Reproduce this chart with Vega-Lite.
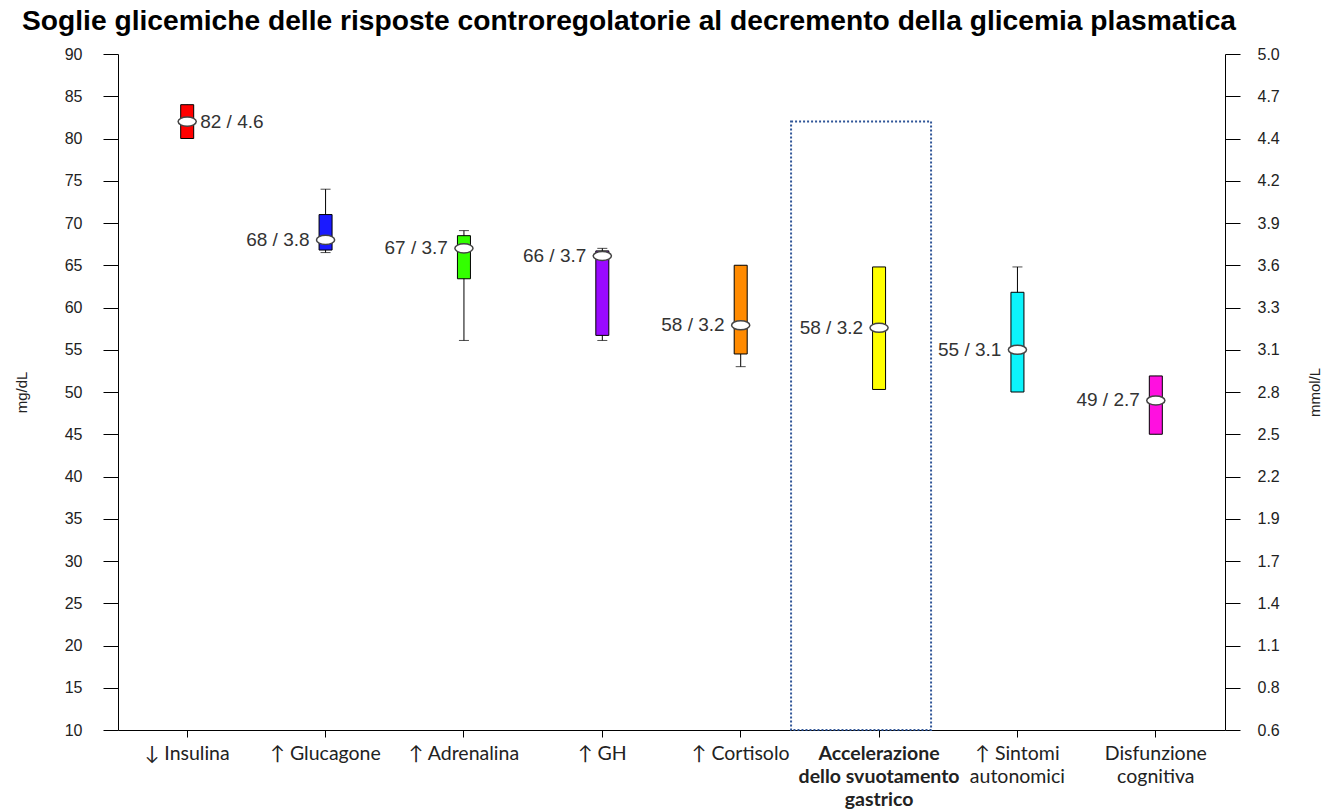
{
  "$schema": "https://vega.github.io/schema/vega-lite/v6.json",
  "width": 1107,
  "height": 676,
  "autosize": {"type": "none"},
  "padding": {"left": 118, "top": 54, "right": 106, "bottom": 81},
  "background": "white",
  "config": {"view": {"stroke": null}, "font": "Liberation Sans"},
  "title": {
    "text": "Soglie glicemiche delle risposte controregolatorie al decremento della glicemia plasmatica",
    "anchor": "start",
    "frame": "group",
    "dx": -96,
    "offset": 10,
    "fontSize": 28.2,
    "fontWeight": "bold",
    "font": "Liberation Sans",
    "color": "black"
  },
  "datasets": {
    "boxes": [
      {"cat": "↓ Insulina", "lo": 80, "q1": 80, "med": 82, "q3": 84, "hi": 84, "label": "82 / 4.6"},
      {"cat": "↑ Glucagone", "lo": 66.5, "q1": 66.8, "med": 68, "q3": 71, "hi": 74, "label": "68 / 3.8"},
      {"cat": "↑ Adrenalina", "lo": 56.1, "q1": 63.4, "med": 67, "q3": 68.5, "hi": 69.1, "label": "67 / 3.7"},
      {"cat": "↑ GH", "lo": 56.1, "q1": 56.7, "med": 66.1, "q3": 66.7, "hi": 67, "label": "66 / 3.7"},
      {"cat": "↑ Cortisolo", "lo": 53, "q1": 54.5, "med": 57.9, "q3": 65, "hi": 65, "label": "58 / 3.2"},
      {"cat": "Accelerazione|dello svuotamento|gastrico", "lo": 50.3, "q1": 50.3, "med": 57.6, "q3": 64.8, "hi": 64.8, "label": "58 / 3.2"},
      {"cat": "↑ Sintomi|autonomici", "lo": 50, "q1": 50, "med": 55, "q3": 61.8, "hi": 64.8, "label": "55 / 3.1"},
      {"cat": "Disfunzione|cognitiva", "lo": 45, "q1": 45, "med": 49, "q3": 51.9, "hi": 51.9, "label": "49 / 2.7"}
    ],
    "highlight": [
      {"cat": "Accelerazione|dello svuotamento|gastrico", "top": 82, "bottom": 10}
    ]
  },
  "data": {"name": "boxes"},
  "encoding": {
    "x": {
      "field": "cat",
      "type": "nominal",
      "title": null,
      "scale": {
        "domain": ["↓ Insulina", "↑ Glucagone", "↑ Adrenalina", "↑ GH", "↑ Cortisolo", "Accelerazione|dello svuotamento|gastrico", "↑ Sintomi|autonomici", "Disfunzione|cognitiva"],
        "paddingInner": 0,
        "paddingOuter": 0
      },
      "axis": {
        "labelExpr": "split(datum.label, '|')",
        "labelFontWeight": {"expr": "indexof(datum.label, 'Accelerazione') >= 0 ? 'bold' : 'normal'"},
        "labelFont": "Lato",
        "labelFontSize": 19.5,
        "labelLineHeight": 23,
        "labelColor": "#222222",
        "labelAngle": 0,
        "labelBaseline": "top",
        "labelPadding": 7,
        "labelOverlap": false,
        "labelLimit": 0,
        "tickSize": 7,
        "tickColor": "black",
        "domainColor": "black",
        "grid": false
      }
    }
  },
  "layer": [
    {
      "mark": {"type": "rule", "color": "black", "strokeWidth": 1},
      "encoding": {
        "y": {
          "field": "lo",
          "type": "quantitative",
          "scale": {"domain": [10, 90], "nice": false, "zero": false},
          "axis": {
            "orient": "left",
            "values": [10, 15, 20, 25, 30, 35, 40, 45, 50, 55, 60, 65, 70, 75, 80, 85, 90],
            "grid": false,
            "tickSize": 15,
            "tickColor": "black",
            "domainColor": "black",
            "labelFont": "Liberation Sans",
            "labelFontSize": 16,
            "labelColor": "#222222",
            "labelPadding": 21,
            "title": "mg/dL",
            "titleFont": "Liberation Sans",
            "titleFontSize": 15,
            "titleFontWeight": "normal",
            "titleColor": "#222222",
            "titleAngle": 270,
            "titleX": -97,
            "titleY": 338,
            "titleAlign": "center",
            "titleBaseline": "middle"
          }
        },
        "y2": {"field": "hi"}
      }
    },
    {
      "transform": [{"filter": "datum.lo < datum.q1"}],
      "mark": {"type": "tick", "orient": "horizontal", "color": "black", "size": 10, "thickness": 1},
      "encoding": {
        "y": {"field": "lo", "type": "quantitative", "scale": {"domain": [10, 90], "nice": false, "zero": false}, "axis": null}
      }
    },
    {
      "transform": [{"filter": "datum.hi > datum.q3"}],
      "mark": {"type": "tick", "orient": "horizontal", "color": "black", "size": 10, "thickness": 1},
      "encoding": {
        "y": {"field": "hi", "type": "quantitative", "scale": {"domain": [10, 90], "nice": false, "zero": false}, "axis": null}
      }
    },
    {
      "mark": {"type": "bar", "width": 13, "stroke": "black", "strokeWidth": 1},
      "encoding": {
        "y": {
          "field": "q1",
          "type": "quantitative",
          "scale": {"domain": [10, 90], "nice": false, "zero": false},
          "axis": {
            "orient": "right",
            "values": [10, 15, 20, 25, 30, 35, 40, 45, 50, 55, 60, 65, 70, 75, 80, 85, 90],
            "labelExpr": "format(datum.value / 18, '.1f')",
            "grid": false,
            "tickSize": 15,
            "tickColor": "black",
            "domainColor": "black",
            "labelFont": "Liberation Sans",
            "labelFontSize": 16,
            "labelColor": "#222222",
            "labelPadding": 17,
            "title": "mmol/L",
            "titleFont": "Liberation Sans",
            "titleFontSize": 15,
            "titleFontWeight": "normal",
            "titleColor": "#222222",
            "titleAngle": 270,
            "titleX": 89,
            "titleY": 338,
            "titleAlign": "center",
            "titleBaseline": "middle"
          }
        },
        "y2": {"field": "q3"},
        "color": {
          "field": "cat",
          "type": "nominal",
          "legend": null,
          "scale": {
            "domain": ["↓ Insulina", "↑ Glucagone", "↑ Adrenalina", "↑ GH", "↑ Cortisolo", "Accelerazione|dello svuotamento|gastrico", "↑ Sintomi|autonomici", "Disfunzione|cognitiva"],
            "range": ["#ff0000", "#1a1aff", "#33ff00", "#9a0aff", "#ff8a00", "#ffff00", "#0cf4fc", "#ff10e0"]
          }
        }
      }
    },
    {
      "mark": {
        "type": "point",
        "shape": "M-1,0A1,0.5 0 1,0 1,0A1,0.5 0 1,0 -1,0Z",
        "size": 330,
        "filled": true,
        "fill": "white",
        "stroke": "#444444",
        "strokeWidth": 1.5,
        "opacity": 1
      },
      "encoding": {
        "y": {"field": "med", "type": "quantitative", "scale": {"domain": [10, 90], "nice": false, "zero": false}, "axis": null}
      }
    },
    {
      "transform": [{"filter": "datum.cat == '↓ Insulina'"}],
      "mark": {"type": "text", "align": "left", "baseline": "middle", "dx": 13, "fontSize": 19, "font": "Liberation Sans", "color": "#333333"},
      "encoding": {
        "y": {"field": "med", "type": "quantitative", "scale": {"domain": [10, 90], "nice": false, "zero": false}, "axis": null},
        "text": {"field": "label"}
      }
    },
    {
      "transform": [{"filter": "datum.cat != '↓ Insulina'"}],
      "mark": {"type": "text", "align": "right", "baseline": "middle", "dx": -16, "fontSize": 19, "font": "Liberation Sans", "color": "#333333"},
      "encoding": {
        "y": {"field": "med", "type": "quantitative", "scale": {"domain": [10, 90], "nice": false, "zero": false}, "axis": null},
        "text": {"field": "label"}
      }
    },
    {
      "data": {"name": "highlight"},
      "mark": {"type": "bar", "width": 140, "xOffset": -18, "fill": "white", "fillOpacity": 0, "stroke": "#2f5597", "strokeWidth": 2, "strokeDash": [2, 2]},
      "encoding": {
        "y": {"field": "top", "type": "quantitative", "scale": {"domain": [10, 90], "nice": false, "zero": false}, "axis": null},
        "y2": {"field": "bottom"}
      }
    }
  ],
  "resolve": {"scale": {"y": "independent"}}
}
